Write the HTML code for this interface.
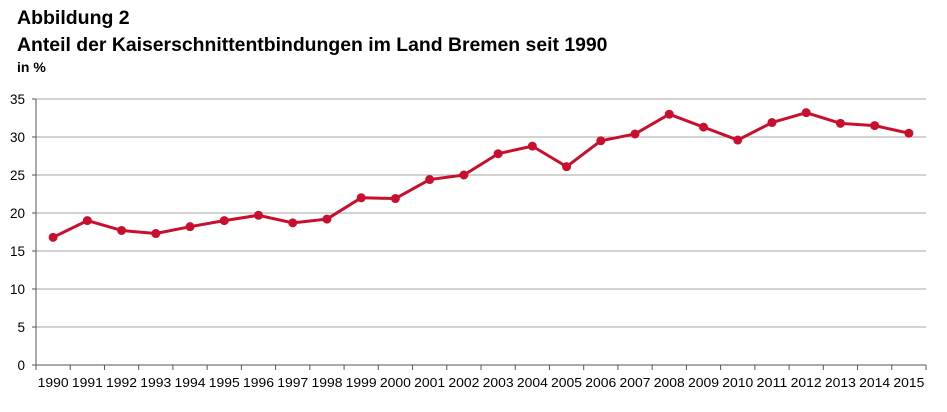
<!DOCTYPE html>
<html><head><meta charset="utf-8"><style>
body{margin:0;background:#fff;width:947px;height:407px;overflow:hidden;font-family:"Liberation Sans",Arial,sans-serif}
</style></head><body>
<svg id="c" width="947" height="407" xmlns="http://www.w3.org/2000/svg" font-family="Liberation Sans, Arial, sans-serif">
<text x="17" y="24" font-size="19.5" font-weight="bold" fill="#000">Abbildung 2</text>
<text x="17" y="51" font-size="19.4" font-weight="bold" fill="#000">Anteil der Kaiserschnittentbindungen im Land Bremen seit 1990</text>
<text x="17" y="72" font-size="14" font-weight="bold" fill="#000">in %</text>
<g id="g"></g>
</svg>
<script>
var g=document.getElementById('g'),s='';
var x0=36,x1=926,y0=365,k=7.6,n=26,w=(x1-x0)/n;
for(var v=5;v<=35;v+=5){var y=y0-v*k;s+='<line x1="'+x0+'" x2="'+x1+'" y1="'+y+'" y2="'+y+'" stroke="#a6a6a6" stroke-width="1"/>';}
for(var v=0;v<=35;v+=5){var y=y0-v*k;s+='<line x1="'+(x0-4)+'" x2="'+x0+'" y1="'+y+'" y2="'+y+'" stroke="#555"/>';s+='<text x="'+(x0-11)+'" y="'+(y+5)+'" font-size="13.5" text-anchor="end">'+v+'</text>';}
s+='<line x1="'+x0+'" x2="'+x0+'" y1="99" y2="'+y0+'" stroke="#555"/>';
s+='<line x1="'+x0+'" x2="'+x1+'" y1="'+y0+'" y2="'+y0+'" stroke="#555"/>';
for(var i=0;i<=n;i++){var x=x0+i*w;s+='<line x1="'+x+'" x2="'+x+'" y1="'+y0+'" y2="'+(y0+5)+'" stroke="#555"/>';}
var d=[16.8,19.0,17.7,17.3,18.2,19.0,19.7,18.7,19.2,22.0,21.9,24.4,25.0,27.8,28.8,26.1,29.5,30.4,33.0,31.3,29.6,31.9,33.2,31.8,31.5,30.5];
var p='';
for(var i=0;i<n;i++){var x=x0+w/2+i*w;s+='<text x="'+x+'" y="387" font-size="13.3" text-anchor="middle" textLength="31" lengthAdjust="spacingAndGlyphs">'+(1990+i)+'</text>';p+=(i?'L':'M')+x+','+(y0-d[i]*k);}
s+='<path d="'+p+'" fill="none" stroke="#c8102e" stroke-width="3" stroke-linejoin="round"/>';
for(var i=0;i<n;i++){var x=x0+w/2+i*w;s+='<circle cx="'+x+'" cy="'+(y0-d[i]*k)+'" r="4.5" fill="#c8102e"/>';}
g.innerHTML=s;
</script>
</body></html>
